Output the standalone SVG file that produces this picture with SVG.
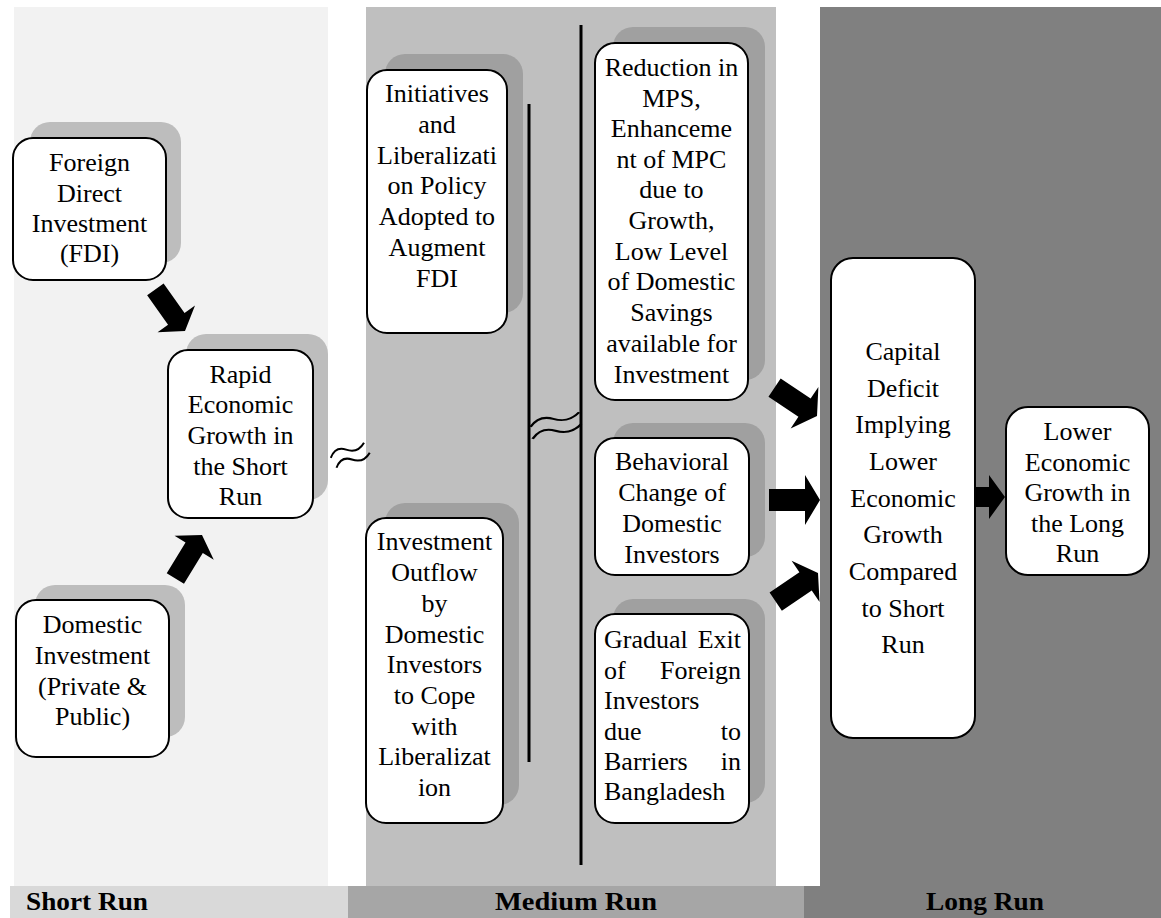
<svg xmlns="http://www.w3.org/2000/svg" width="1161" height="918" viewBox="0 0 1161 918">
<style>
.box{fill:#fff;stroke:#000;stroke-width:2}
.sh1{fill:#bdbdbd}
.sh2{fill:#a0a0a0}
.t{font-family:"Liberation Serif","Times New Roman",serif;font-size:26px;fill:#000;text-anchor:middle}
.ts{font-family:"Liberation Serif","Times New Roman",serif;font-size:26px;fill:#000}
.te{font-family:"Liberation Serif","Times New Roman",serif;font-size:26px;fill:#000;text-anchor:end}
.lab{font-family:"Liberation Serif","Times New Roman",serif;font-size:25px;font-weight:bold;fill:#000}
.arr{fill:#000}
.wave{fill:none;stroke:#000;stroke-width:2}
.vl{stroke:#000;stroke-width:3}
</style>
<defs>
<path id="arrow" d="M-51,-11 L-15,-11 L-15,-25 L0,0 L-15,25 L-15,11 L-51,11 Z"/>
<path id="wave" d="M0,3 C5,-4 11,-5 17,-1 S29,4 36,-3"/>
</defs>
<rect width="1161" height="918" fill="#fff"/>
<g id="panels">
<rect x="14" y="7" width="314" height="880" fill="#f2f2f2"/>
<rect x="366" y="7" width="410" height="880" fill="#bfbfbf"/>
<rect x="820" y="7" width="341" height="880" fill="#808080"/>
<rect x="10" y="886" width="338" height="32" fill="#d9d9d9"/>
<rect x="348" y="886" width="456" height="32" fill="#a6a6a6"/>
<rect x="804" y="886" width="357" height="32" fill="#808080"/>
<text class="lab" x="26" y="910" textLength="122" lengthAdjust="spacingAndGlyphs">Short Run</text>
<text class="lab" x="495" y="910" textLength="162" lengthAdjust="spacingAndGlyphs">Medium Run</text>
<text class="lab" x="926" y="910" textLength="118" lengthAdjust="spacingAndGlyphs">Long Run</text>
</g>
<g id="dividers">
<line class="vl" x1="529" y1="104" x2="529" y2="762"/>
<line class="vl" x1="581" y1="25" x2="581" y2="865"/>
</g>
<g id="node-fdi">
<rect class="sh1" x="30" y="122" width="151" height="141" rx="20"/>
<rect class="box" x="13" y="138" width="153" height="142" rx="20"/>
<text class="t" x="89.5" y="171">Foreign</text>
<text class="t" x="89.5" y="201.5">Direct</text>
<text class="t" x="89.5" y="232">Investment</text>
<text class="t" x="89.5" y="262">(FDI)</text>
</g>
<g id="node-rapid">
<rect class="sh1" x="186" y="334" width="142" height="166" rx="20"/>
<rect class="box" x="168" y="350" width="145" height="168" rx="20"/>
<text class="t" x="240.5" y="382.5">Rapid</text>
<text class="t" x="240.5" y="413">Economic</text>
<text class="t" x="240.5" y="444">Growth in</text>
<text class="t" x="240.5" y="474.5">the Short</text>
<text class="t" x="240.5" y="505">Run</text>
</g>
<g id="node-domestic">
<rect class="sh1" x="35" y="585" width="150" height="152" rx="20"/>
<rect class="box" x="16" y="600" width="153" height="157" rx="20"/>
<text class="t" x="92.5" y="633">Domestic</text>
<text class="t" x="92.5" y="664">Investment</text>
<text class="t" x="92.5" y="695">(Private &amp;</text>
<text class="t" x="92.5" y="725">Public)</text>
</g>
<g id="node-initiatives">
<rect class="sh2" x="385" y="54" width="138" height="259" rx="20"/>
<rect class="box" x="367" y="70" width="140" height="263" rx="20"/>
<text class="t" x="437" y="102">Initiatives</text>
<text class="t" x="437" y="133">and</text>
<text class="t" x="437" y="164">Liberalizati</text>
<text class="t" x="437" y="194">on Policy</text>
<text class="t" x="437" y="225">Adopted to</text>
<text class="t" x="437" y="256">Augment</text>
<text class="t" x="437" y="287">FDI</text>
</g>
<g id="node-outflow">
<rect class="sh2" x="385" y="503" width="134" height="302" rx="20"/>
<rect class="box" x="366" y="518" width="137" height="305" rx="20"/>
<text class="t" x="434.5" y="550">Investment</text>
<text class="t" x="434.5" y="581">Outflow</text>
<text class="t" x="434.5" y="612">by</text>
<text class="t" x="434.5" y="643">Domestic</text>
<text class="t" x="434.5" y="673">Investors</text>
<text class="t" x="434.5" y="704">to Cope</text>
<text class="t" x="434.5" y="735">with</text>
<text class="t" x="434.5" y="765">Liberalizat</text>
<text class="t" x="434.5" y="796">ion</text>
</g>
<g id="node-reduction">
<rect class="sh2" x="613" y="27" width="152" height="353" rx="20"/>
<rect class="box" x="595" y="43" width="153" height="357" rx="20"/>
<text class="t" x="671.5" y="76">Reduction in</text>
<text class="t" x="671.5" y="107">MPS,</text>
<text class="t" x="671.5" y="137">Enhanceme</text>
<text class="t" x="671.5" y="168">nt of MPC</text>
<text class="t" x="671.5" y="198">due to</text>
<text class="t" x="671.5" y="229">Growth,</text>
<text class="t" x="671.5" y="260">Low Level</text>
<text class="t" x="671.5" y="290">of Domestic</text>
<text class="t" x="671.5" y="321">Savings</text>
<text class="t" x="671.5" y="352">available for</text>
<text class="t" x="671.5" y="383">Investment</text>
</g>
<g id="node-behavioral">
<rect class="sh2" x="613" y="423" width="152" height="134" rx="20"/>
<rect class="box" x="595" y="438" width="154" height="137" rx="20"/>
<text class="t" x="672" y="470">Behavioral</text>
<text class="t" x="672" y="501">Change of</text>
<text class="t" x="672" y="532">Domestic</text>
<text class="t" x="672" y="563">Investors</text>
</g>
<g id="node-gradual">
<rect class="sh2" x="613" y="599" width="152" height="204" rx="20"/>
<rect class="box" x="595" y="614" width="154" height="209" rx="20"/>
<text class="ts" x="604" y="648">Gradual</text><text class="te" x="741" y="648">Exit</text>
<text class="ts" x="604" y="679">of</text><text class="te" x="741" y="679">Foreign</text>
<text class="ts" x="604" y="709">Investors</text>
<text class="ts" x="604" y="740">due</text><text class="te" x="741" y="740">to</text>
<text class="ts" x="604" y="770">Barriers</text><text class="te" x="741" y="770">in</text>
<text class="ts" x="604" y="800">Bangladesh</text>
</g>
<g id="node-capital">
<rect class="box" x="831" y="258" width="144" height="480" rx="22"/>
<text class="t" x="903" y="360">Capital</text>
<text class="t" x="903" y="397">Deficit</text>
<text class="t" x="903" y="433">Implying</text>
<text class="t" x="903" y="470">Lower</text>
<text class="t" x="903" y="507">Economic</text>
<text class="t" x="903" y="543">Growth</text>
<text class="t" x="903" y="580">Compared</text>
<text class="t" x="903" y="617">to Short</text>
<text class="t" x="903" y="653">Run</text>
</g>
<g id="node-lower">
<rect class="box" x="1006" y="407" width="143" height="168" rx="22"/>
<text class="t" x="1077.5" y="440">Lower</text>
<text class="t" x="1077.5" y="470.5">Economic</text>
<text class="t" x="1077.5" y="501">Growth in</text>
<text class="t" x="1077.5" y="531.5">the Long</text>
<text class="t" x="1077.5" y="562">Run</text>
</g>
<g id="connectors">
<use href="#arrow" class="arr" transform="translate(185,331) rotate(54.5) scale(1,0.92)"/>
<use href="#arrow" class="arr" transform="translate(202,535) rotate(-58.5) scale(1,0.92)"/>
<use href="#arrow" class="arr" transform="translate(817,416) rotate(33.7)"/>
<use href="#arrow" class="arr" transform="translate(820,500)"/>
<use href="#arrow" class="arr" transform="translate(818,573) rotate(-34)"/>
<path class="arr" d="M975,487 L989,487 L989,475 L1005,497 L989,519 L989,507 L975,507 Z"/>
<g transform="translate(330,455) rotate(-15)">
<use href="#wave" class="wave"/>
<use href="#wave" class="wave" transform="translate(3,11)"/>
</g>
<g transform="translate(530,424) rotate(-10) scale(1.4,1)">
<use href="#wave" class="wave"/>
<use href="#wave" class="wave" transform="translate(0,12)"/>
</g>
</g>
</svg>
